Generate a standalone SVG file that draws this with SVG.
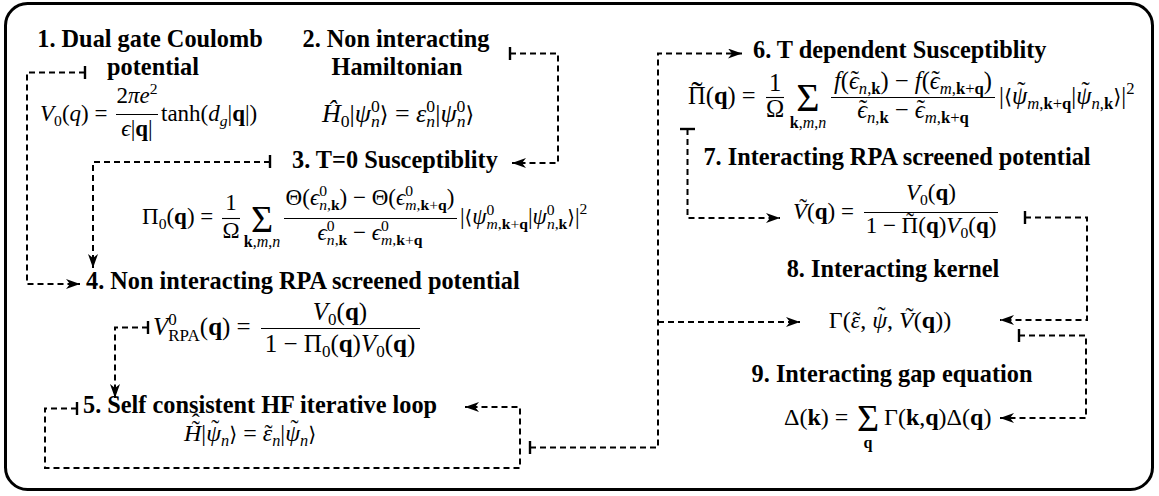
<svg xmlns="http://www.w3.org/2000/svg" width="1159" height="496" viewBox="0 0 1159 496">
<style>
.bg{fill:#fff}
.frame{fill:#fff;stroke:#000;stroke-width:3}
.ttl{font-family:"Liberation Serif","Times New Roman",serif;font-weight:bold;font-size:24.3px;fill:#000}
.m{font-family:"Liberation Serif","DejaVu Serif",serif;font-size:23px;fill:#000}
.m24{font-size:24px}
.m25{font-size:25px}
.m26{font-size:26px}
.m245{font-size:24.5px}
.i{font-style:italic}
.b{font-weight:bold}
.s{font-size:0.68em}
.dj{font-family:"DejaVu Serif","DejaVu Sans",serif;font-size:0.85em}
.wt{font-size:34px}
.sig{font-size:38px}
.sig40{font-size:40px}
.lim{font-size:16px}
.bar{stroke:#000;stroke-width:1.1}
.con path{fill:none;stroke:#000;stroke-width:2;stroke-dasharray:6 4}
.con .arr{marker-end:url(#ah)}
.tick{stroke:#000;stroke-width:2.4}
</style>
<defs>
<marker id="ah" markerUnits="userSpaceOnUse" viewBox="0 0 14 10" refX="14" refY="5" markerWidth="14" markerHeight="10" orient="auto"><path d="M0,0 L14,5 L0,10 L4,5 Z" fill="#000"/></marker>
</defs>
<rect class="bg" x="0" y="0" width="1159" height="496"/>
<rect class="frame" x="5.5" y="3.5" width="1147" height="486" rx="22" ry="22"/>

<g id="node1">
<text class="ttl" x="150" y="47" text-anchor="middle">1. Dual gate Coulomb</text>
<text class="ttl" x="153" y="75" text-anchor="middle">potential</text>
<text class="m" x="40" y="121"><tspan class="i">V</tspan><tspan class="s" dy="5">0</tspan><tspan dy="-5">(</tspan><tspan class="i">q</tspan>) =</text>
<text class="m" x="137" y="103" text-anchor="middle">2<tspan class="i">πe</tspan><tspan class="s" dy="-9">2</tspan></text>
<line class="bar" x1="116" y1="114.5" x2="158" y2="114.5"/>
<text class="m" x="137" y="136" text-anchor="middle"><tspan class="i">ϵ</tspan>|<tspan class="b">q</tspan>|</text>
<text class="m" x="161" y="121">tanh(<tspan class="i">d</tspan><tspan class="s i" dy="5">g</tspan><tspan dy="-5">|</tspan><tspan class="b">q</tspan>|)</text>
</g>

<g id="node2">
<text class="ttl" x="396" y="47" text-anchor="middle">2. Non interacting</text>
<text class="ttl" x="397" y="75" text-anchor="middle">Hamiltonian</text>
<text class="m m26" x="398" y="122" text-anchor="middle"><tspan class="i">Ĥ</tspan><tspan class="s" dy="5">0</tspan><tspan dy="-5">|</tspan><tspan class="i">ψ</tspan><tspan class="s" dy="-10">0</tspan><tspan class="s i" dx="-8.8" dy="15">n</tspan><tspan class="dj" dy="-5">⟩</tspan> = <tspan class="i">ε</tspan><tspan class="s" dy="-10">0</tspan><tspan class="s i" dx="-8.8" dy="15">n</tspan><tspan dy="-5">|</tspan><tspan class="i">ψ</tspan><tspan class="s" dy="-10">0</tspan><tspan class="s i" dx="-8.8" dy="15">n</tspan><tspan class="dj" dy="-5">⟩</tspan></text>
</g>

<g id="node3">
<text class="ttl" x="292" y="168">3. T=0 Susceptiblity</text>
<text class="m" x="142" y="224">Π<tspan class="s" dy="5">0</tspan><tspan dy="-5">(</tspan><tspan class="b">q</tspan>) =</text>
<text class="m" x="231" y="210" text-anchor="middle">1</text>
<line class="bar" x1="222" y1="218.5" x2="240" y2="218.5"/>
<text class="m" x="231" y="238" text-anchor="middle">Ω</text>
<text class="m sig" x="262" y="232" text-anchor="middle">Σ</text>
<text class="m lim" x="262" y="247" text-anchor="middle"><tspan class="b">k</tspan>,<tspan class="i">m</tspan>,<tspan class="i">n</tspan></text>
<text class="m" x="370" y="205" text-anchor="middle">Θ(<tspan class="i">ϵ</tspan><tspan class="s" dy="-9">0</tspan><tspan class="s" dx="-7.8" dy="14"><tspan class="i">n</tspan>,<tspan class="b">k</tspan></tspan><tspan dy="-5">) − Θ(</tspan><tspan class="i">ϵ</tspan><tspan class="s" dy="-9">0</tspan><tspan class="s" dx="-7.8" dy="14"><tspan class="i">m</tspan>,<tspan class="b">k</tspan>+<tspan class="b">q</tspan></tspan><tspan dy="-5">)</tspan></text>
<line class="bar" x1="284" y1="218.5" x2="457" y2="218.5"/>
<text class="m" x="370" y="240" text-anchor="middle"><tspan class="i">ϵ</tspan><tspan class="s" dy="-9">0</tspan><tspan class="s" dx="-7.8" dy="14"><tspan class="i">n</tspan>,<tspan class="b">k</tspan></tspan><tspan dy="-5"> − </tspan><tspan class="i">ϵ</tspan><tspan class="s" dy="-9">0</tspan><tspan class="s" dx="-7.8" dy="14"><tspan class="i">m</tspan>,<tspan class="b">k</tspan>+<tspan class="b">q</tspan></tspan></text>
<text class="m" x="460" y="224">|<tspan class="dj">⟨</tspan><tspan class="i">ψ</tspan><tspan class="s" dy="-9">0</tspan><tspan class="s" dx="-7.8" dy="14"><tspan class="i">m</tspan>,<tspan class="b">k</tspan>+<tspan class="b">q</tspan></tspan><tspan dy="-5">|</tspan><tspan class="i">ψ</tspan><tspan class="s" dy="-9">0</tspan><tspan class="s" dx="-7.8" dy="14"><tspan class="i">n</tspan>,<tspan class="b">k</tspan></tspan><tspan class="dj" dy="-5">⟩</tspan>|<tspan class="s" dy="-10">2</tspan></text>
</g>

<g id="node4">
<text class="ttl" x="86" y="289">4. Non interacting RPA screened potential</text>
<text class="m m25" x="153" y="335"><tspan class="i">V</tspan><tspan class="s" dy="-10">0</tspan><tspan class="s" dx="-8.5" dy="16">RPA</tspan><tspan dy="-6">(</tspan><tspan class="b">q</tspan>) =</text>
<text class="m m25" x="340" y="320" text-anchor="middle"><tspan class="i">V</tspan><tspan class="s" dy="5">0</tspan><tspan dy="-5">(</tspan><tspan class="b">q</tspan>)</text>
<line class="bar" x1="261" y1="328.5" x2="420" y2="328.5"/>
<text class="m m25" x="340" y="352" text-anchor="middle">1 − Π<tspan class="s" dy="5">0</tspan><tspan dy="-5">(</tspan><tspan class="b">q</tspan>)<tspan class="i">V</tspan><tspan class="s" dy="5">0</tspan><tspan dy="-5">(</tspan><tspan class="b">q</tspan>)</text>
</g>

<g id="node5">
<text class="ttl" x="83" y="413">5. Self consistent HF iterative loop</text>
<text class="m m24" x="184" y="441"><tspan class="i">H</tspan><tspan dx="-9.6" dy="-4">˜</tspan><tspan dx="-8" dy="-7">ˆ</tspan><tspan dx="1.6" dy="11">|</tspan><tspan class="i">ψ</tspan><tspan dx="-9.7" dy="-5">˜</tspan><tspan class="s i" dx="1.7" dy="10">n</tspan><tspan class="dj" dy="-5">⟩</tspan> = <tspan class="i">ε</tspan><tspan dx="-7.8">˜</tspan><tspan class="s i" dx="-0.2" dy="5">n</tspan><tspan dy="-5">|</tspan><tspan class="i">ψ</tspan><tspan dx="-9.7" dy="-5">˜</tspan><tspan class="s i" dx="1.7" dy="10">n</tspan><tspan class="dj" dy="-5">⟩</tspan></text>
</g>

<g id="node6">
<text class="ttl" x="753" y="58">6. T dependent Susceptiblity</text>
<text class="m m245" x="688" y="104">Π<tspan class="wt" dx="-14.4" dy="1">˜</tspan><tspan dx="3.1" dy="-1">(</tspan><tspan class="b">q</tspan>) =</text>
<text class="m m245" x="775" y="91" text-anchor="middle">1</text>
<line class="bar" x1="766" y1="97.5" x2="784" y2="97.5"/>
<text class="m m245" x="775" y="117" text-anchor="middle">Ω</text>
<text class="m sig40" x="808" y="111" text-anchor="middle">Σ</text>
<text class="m lim" x="808" y="128" text-anchor="middle"><tspan class="b">k</tspan>,<tspan class="i">m</tspan>,<tspan class="i">n</tspan></text>
<text class="m m245" x="913" y="89" text-anchor="middle"><tspan class="i">f</tspan>(<tspan class="i">ϵ</tspan><tspan dx="-8.1" dy="-1">˜</tspan><tspan class="s" dx="-0.1" dy="6"><tspan class="i">n</tspan>,<tspan class="b">k</tspan></tspan><tspan dy="-5">) − </tspan><tspan class="i">f</tspan>(<tspan class="i">ϵ</tspan><tspan dx="-8.1" dy="-1">˜</tspan><tspan class="s" dx="-0.1" dy="6"><tspan class="i">m</tspan>,<tspan class="b">k</tspan>+<tspan class="b">q</tspan></tspan><tspan dy="-5">)</tspan></text>
<line class="bar" x1="831" y1="97.5" x2="995" y2="97.5"/>
<text class="m m245" x="913" y="118" text-anchor="middle"><tspan class="i">ϵ</tspan><tspan dx="-8.1" dy="-1">˜</tspan><tspan class="s" dx="-0.1" dy="6"><tspan class="i">n</tspan>,<tspan class="b">k</tspan></tspan><tspan dy="-5"> − </tspan><tspan class="i">ϵ</tspan><tspan dx="-8.1" dy="-1">˜</tspan><tspan class="s" dx="-0.1" dy="6"><tspan class="i">m</tspan>,<tspan class="b">k</tspan>+<tspan class="b">q</tspan></tspan></text>
<text class="m m245" x="999" y="104">|<tspan class="dj">⟨</tspan><tspan class="i">ψ</tspan><tspan dx="-9.9" dy="-5">˜</tspan><tspan class="s" dx="1.7" dy="10"><tspan class="i">m</tspan>,<tspan class="b">k</tspan>+<tspan class="b">q</tspan></tspan><tspan dy="-5">|</tspan><tspan class="i">ψ</tspan><tspan dx="-9.9" dy="-5">˜</tspan><tspan class="s" dx="1.7" dy="10"><tspan class="i">n</tspan>,<tspan class="b">k</tspan></tspan><tspan class="dj" dy="-5">⟩</tspan>|<tspan class="s" dy="-10">2</tspan></text>
</g>

<g id="node7">
<text class="ttl" x="897" y="165" text-anchor="middle">7. Interacting RPA screened potential</text>
<text class="m" x="793" y="219"><tspan class="i">V</tspan><tspan dx="-7.8" dy="-4">˜</tspan><tspan dx="0.1" dy="4">(</tspan><tspan class="b">q</tspan>) =</text>
<text class="m" x="931" y="200" text-anchor="middle"><tspan class="i">V</tspan><tspan class="s" dy="5">0</tspan><tspan dy="-5">(</tspan><tspan class="b">q</tspan>)</text>
<line class="bar" x1="864" y1="212.5" x2="998" y2="212.5"/>
<text class="m" x="931" y="233" text-anchor="middle">1 − Π<tspan dx="-12.1" dy="-4">˜</tspan><tspan dx="4.4" dy="4">(</tspan><tspan class="b">q</tspan>)<tspan class="i">V</tspan><tspan class="s" dy="5">0</tspan><tspan dy="-5">(</tspan><tspan class="b">q</tspan>)</text>
</g>

<g id="node8">
<text class="ttl" x="893" y="277" text-anchor="middle">8. Interacting kernel</text>
<text class="m m24" x="890" y="328" text-anchor="middle">Γ(<tspan class="i">ε</tspan><tspan dx="-7.8">˜</tspan><tspan dx="-0.2">, </tspan><tspan class="i">ψ</tspan><tspan dx="-9.7" dy="-5">˜</tspan><tspan dx="1.7" dy="5">, </tspan><tspan class="i">V</tspan><tspan dx="-8.3" dy="-4">˜</tspan><tspan dx="0.3" dy="4">(</tspan><tspan class="b">q</tspan>))</text>
</g>

<g id="node9">
<text class="ttl" x="892" y="382" text-anchor="middle">9. Interacting gap equation</text>
<text class="m m24" x="784" y="425">Δ(<tspan class="b">k</tspan>) =</text>
<text class="m sig" x="868" y="431" text-anchor="middle">Σ</text>
<text class="m lim b" x="868" y="448" text-anchor="middle">q</text>
<text class="m m24" x="884" y="425">Γ(<tspan class="b">k</tspan>,<tspan class="b">q</tspan>)Δ(<tspan class="b">q</tspan>)</text>
</g>

<g id="connectors" class="con">
<line class="tick" x1="85" y1="66" x2="85" y2="79"/>
<path class="arr" d="M85,72.5 H27 V284 H80"/>
<line class="tick" x1="510" y1="47" x2="510" y2="60"/>
<path class="arr" d="M510,53.5 H558 V163 H512"/>
<line class="tick" x1="270" y1="155" x2="270" y2="168"/>
<path class="arr" d="M270,162 H93 V268"/>
<line class="tick" x1="148" y1="321" x2="148" y2="334"/>
<path class="arr" d="M148,327.5 H115 V398"/>
<line class="tick" x1="77" y1="402" x2="77" y2="415"/>
<path class="arr" d="M77,408.5 H45 V468 H520 V407 H465"/>
<line class="tick" x1="530" y1="441" x2="530" y2="454"/>
<path class="arr" d="M530,447.5 H658 V53.5 H742"/>
<path class="arr" d="M658,322 H800"/>
<line class="tick" x1="680" y1="129" x2="695" y2="129"/>
<path class="arr" d="M687.5,129 V218 H780"/>
<line class="tick" x1="1025" y1="211" x2="1025" y2="224"/>
<path class="arr" d="M1025,217.5 H1087 V320 H1000"/>
<line class="tick" x1="1019" y1="329" x2="1019" y2="342"/>
<path class="arr" d="M1019,335.5 H1086 V418 H1000"/>
</g>
</svg>
